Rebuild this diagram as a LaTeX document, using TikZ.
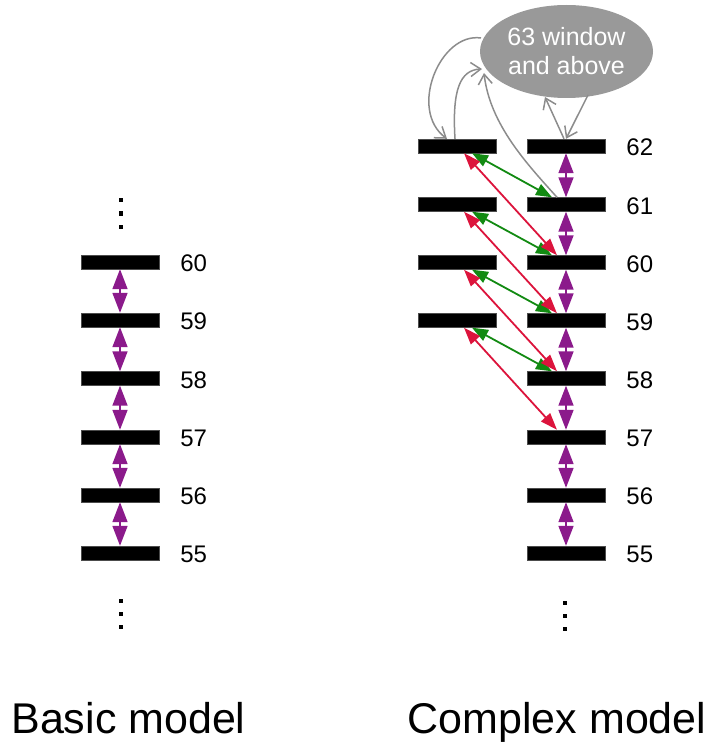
\documentclass[tikz,border=0pt]{standalone}
\usepackage{fontspec}
\setmainfont{Liberation Sans}
\usetikzlibrary{arrows.meta,shapes.geometric,calc}
\definecolor{purp}{HTML}{8B1A8B}
\definecolor{grn}{HTML}{128A12}
\definecolor{redc}{HTML}{DC143C}
\definecolor{gry}{HTML}{8C8C8C}
\definecolor{ellfill}{HTML}{999999}
\tikzset{
  bar/.style={rectangle, fill=black, draw=black!70, line width=0.4pt, minimum width=78pt, minimum height=14pt, inner sep=0pt},
  lab/.style={anchor=west, font=\fontsize{24}{28}\selectfont, inner sep=0pt},
  vlink/.style={purp, line width=1.6pt, {Triangle[width=15pt,length=20pt]}-{Triangle[width=15pt,length=20pt]}},
  glink/.style={grn, line width=1.8pt, {Triangle[width=12pt,length=16pt]}-{Triangle[width=12pt,length=16pt]}},
  rlink/.style={redc, line width=1.8pt, {Triangle[width=12pt,length=17pt]}-{Triangle[width=12pt,length=17pt]}},
  gray link/.style={gry, line width=1.5pt, -{Straight Barb[length=10pt,width=14pt,line width=1.5pt]}},
  dotsq/.style={rectangle, fill=black, minimum size=4.5pt, inner sep=0pt},
  title/.style={anchor=base, font=\fontsize{43}{50}\selectfont, inner sep=0pt}
}
\begin{document}
\begin{tikzpicture}[x=1pt,y=-1pt]
\useasboundingbox (0,0) rectangle (710,746);
% basic model
\foreach \n/\y in {60/262,59/320,58/378.5,57/437,56/495,55/553}{
  \node[bar] (B\n) at (120,\y) {};
  \node[lab] (BL\n) at ([xshift=21pt,yshift=-1.5pt]B\n.east) {\n};
}
\foreach \a/\b in {60/59,59/58,58/57,57/56,56/55}{
  \draw[vlink] (B\a.south) -- (B\b.north);
}
% complex model right column
\foreach \n/\y in {62/146,61/204.5,60/262.5,59/320.5,58/378.5,57/437,56/495,55/553}{
  \node[bar] (R\n) at (566,\y) {};
  \node[lab] (RL\n) at ([xshift=21pt,yshift=-1.5pt]R\n.east) {\n};
}
\foreach \a/\b in {62/61,61/60,60/59,59/58,58/57,57/56,56/55}{
  \draw[vlink] (R\a.south) -- (R\b.north);
}
% complex model left column
\foreach \n/\y in {62/146,61/204.5,60/262.5,59/320.5}{
  \node[bar] (C\n) at (457,\y) {};
}
% green links
\foreach \a/\b in {62/61,61/60,60/59,59/58}{
  \draw[glink] ([xshift=15pt]C\a.south) -- ([xshift=-14pt]R\b.north);
}
% red links
\foreach \a/\b in {62/60,61/59,60/58,59/57}{
  \draw[rlink] ([xshift=7pt]C\a.south) -- ([xshift=-9pt]R\b.north);
}
% ellipse
\node[ellipse, fill=ellfill, minimum width=173pt, minimum height=93pt, inner sep=0pt,
      text=white, align=center, font=\fontsize{25}{29}\selectfont] (E) at (566.5,51.5) {63 window\\and above};
\coordinate (e1) at (481,38);
\coordinate (e2) at (482,69);
\coordinate (e3) at (484,73);
\coordinate (e4) at (545,97);
\coordinate (e5) at (588,95);
% gray links
\draw[gray link] (e1) .. controls (440,32) and (408,110) .. ([xshift=-10pt]C62.north);
\draw[gray link] ([xshift=-2pt]C62.north) .. controls (452,90) and (460,70) .. (e2);
\draw[gray link] ([xshift=-9pt]R61.north) .. controls (528,165) and (490,125) .. (e3);
\draw[gray link] ([xshift=-2pt]R62.north) -- (e4);
\draw[gray link] (e5) -- (R62.north);
% dots
\foreach \x/\y [count=\i] in {121/200,121/213.5,121/227,121/601,121/614,121/627,565/603,565/616,565/629}{
  \node[dotsq] (d\i) at (\x,\y) {};
}
% titles
\node[title] (T1) at (128.5,733) {Basic model};
\node[title] (T2) at (557,733) {Complex model};
\end{tikzpicture}
\end{document}
